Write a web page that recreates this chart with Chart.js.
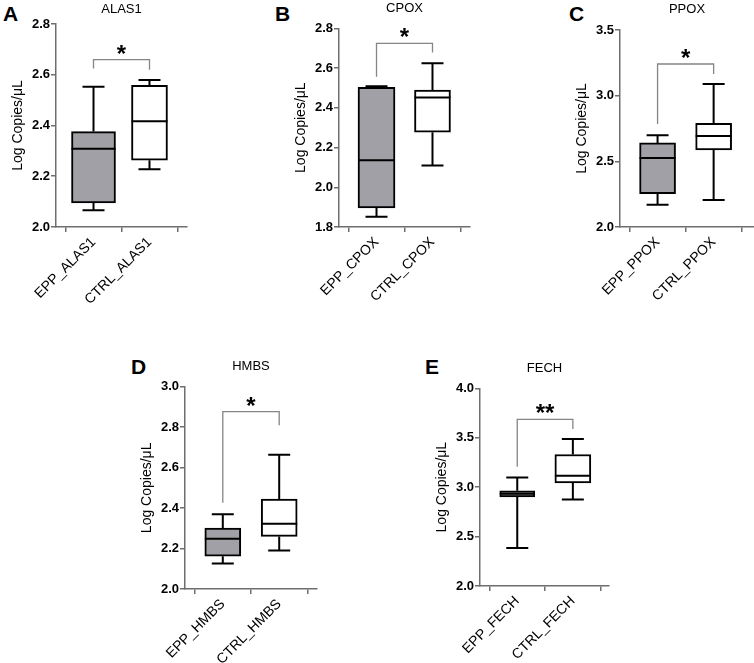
<!DOCTYPE html>
<html>
<head>
<meta charset="utf-8">
<script src="https://cdn.jsdelivr.net/npm/chart.js@4.4.1/dist/chart.umd.min.js"></script>
<style>
body { margin: 0; background: #fff; }
#wrap { position: relative; width: 754px; height: 663px; overflow: hidden; font-family: "Liberation Sans", Arial, sans-serif; }
#wrap canvas { position: absolute; }
.letter { position: absolute; font-weight: bold; font-size: 21px; line-height: 1; color: #000; }
</style>
</head>
<body>
<div id="wrap">
  <div class="letter" style="left:3px;top:3px">A</div>
  <div class="letter" style="left:275px;top:2.5px">B</div>
  <div class="letter" style="left:569px;top:2.5px">C</div>
  <div class="letter" style="left:131px;top:355.5px">D</div>
  <div class="letter" style="left:425px;top:355.5px">E</div>
</div>
<script>
// data (log copies / uL)
const genes = ['ALAS1', 'CPOX', 'PPOX', 'HMBS', 'FECH'];
const eppLabels = ['EPP_ALAS1', 'EPP_CPOX', 'EPP_PPOX', 'EPP_HMBS', 'EPP_FECH'];
const ctrlLabels = ['CTRL_ALAS1', 'CTRL_CPOX', 'CTRL_PPOX', 'CTRL_HMBS', 'CTRL_FECH'];

const eppMin    = [2.066, 1.851, 2.170, 2.126, 2.385];
const eppQ1     = [2.095, 1.896, 2.254, 2.162, 2.902];
const eppMedian = [2.308, 2.136, 2.525, 2.248, 2.932];
const eppQ3     = [2.376, 2.503, 2.640, 2.301, 2.963];
const eppMax    = [2.553, 2.508, 2.698, 2.369, 3.098];

const ctrlMin    = [2.228, 2.109, 2.206, 2.190, 2.875];
const ctrlQ1     = [2.263, 2.277, 2.586, 2.260, 3.044];
const ctrlMedian = [2.417, 2.452, 2.693, 2.323, 3.115];
const ctrlQ3     = [2.558, 2.489, 2.790, 2.444, 3.330];
const ctrlMax    = [2.579, 2.624, 3.089, 2.664, 3.487];

const yMin  = [2.0, 1.8, 2.0, 2.0, 2.0];
const yMax  = [2.8, 2.8, 3.5, 3.0, 4.0];
const yStep = [0.2, 0.2, 0.5, 0.2, 0.5];

const sigTop      = [2.660, 2.724, 3.241, 2.877, 3.686];
const sigLeftEnd  = [2.625, 2.556, 2.785, 2.426, 3.206];
const sigRightEnd = [2.620, 2.678, 3.165, 2.810, 3.588];
const sigText     = ['*', '*', '*', '*', '**'];

// where each panel sits on the page
const panels = [
  { left: 0,   top: 0,   w: 200, h: 330, padL: 0,  padR: 13, tTop: 1.2, tBot: 7.2,  xH: 103, xMax: 1.67, eppW: 44 },
  { left: 270, top: 0,   w: 210, h: 330, padL: 13, padR: 10, tTop: 0.9, tBot: 11.8, xH: 103, xMax: 1.67, eppW: 37 },
  { left: 560, top: 0,   w: 194, h: 330, padL: 4,  padR: 0,  tTop: 1.7, tBot: 12.7, xH: 103, xMax: 1.72, eppW: 36 },
  { left: 120, top: 358, w: 210, h: 305, padL: 9,  padR: 13, tTop: 0.9, tBot: 12.2, xH: 74,  xMax: 1.67, eppW: 36 },
  { left: 415, top: 359, w: 210, h: 304, padL: 9,  padR: 16, tTop: 1.5, tBot: 12.2, xH: 77,  xMax: 1.65, eppW: 35 }
];

Chart.defaults.font.family = '"Liberation Sans", Arial, sans-serif';
Chart.defaults.color = '#000';

const axisGray = '#6e6e6e';

const boxExtras = {
  id: 'boxExtras',
  afterDatasetsDraw(chart, args, opts) {
    const { ctx, scales: { x, y } } = chart;
    const i = opts.index;
    ctx.save();
    ctx.strokeStyle = '#000';
    ctx.lineWidth = 2;
    ctx.lineCap = 'butt';
    chart.data.datasets.forEach((ds, di) => {
      const bar = chart.getDatasetMeta(di).data[0];
      const cx = bar.x;
      const half = bar.width / 2;
      const cap = 11;
      const yTop = y.getPixelForValue(ds.whiskerMax);
      const yBot = y.getPixelForValue(ds.whiskerMin);
      const yQ3 = y.getPixelForValue(ds.data[0].y[1]);
      const yQ1 = y.getPixelForValue(ds.data[0].y[0]);
      const yMed = y.getPixelForValue(ds.median);
      ctx.beginPath();
      ctx.moveTo(cx, yQ3); ctx.lineTo(cx, yTop);
      ctx.moveTo(cx - cap, yTop); ctx.lineTo(cx + cap, yTop);
      ctx.moveTo(cx, yQ1); ctx.lineTo(cx, yBot);
      ctx.moveTo(cx - cap, yBot); ctx.lineTo(cx + cap, yBot);
      ctx.moveTo(cx - half, yMed); ctx.lineTo(cx + half, yMed);
      ctx.stroke();
    });
    // significance bracket
    const x0 = x.getPixelForValue(0);
    const x1 = x.getPixelForValue(1);
    const yt = y.getPixelForValue(sigTop[i]);
    ctx.strokeStyle = '#858585';
    ctx.lineWidth = 1.3;
    ctx.beginPath();
    ctx.moveTo(x0, y.getPixelForValue(sigLeftEnd[i]));
    ctx.lineTo(x0, yt);
    ctx.lineTo(x1, yt);
    ctx.lineTo(x1, y.getPixelForValue(sigRightEnd[i]));
    ctx.stroke();
    ctx.fillStyle = '#000';
    ctx.font = 'bold 24px "Liberation Sans", Arial, sans-serif';
    ctx.textAlign = 'center';
    ctx.textBaseline = 'alphabetic';
    ctx.fillText(sigText[i], (x0 + x1) / 2, yt + 2);
    ctx.restore();
  }
};

const wrap = document.getElementById('wrap');

genes.forEach((gene, i) => {
  const p = panels[i];
  const cv = document.createElement('canvas');
  cv.style.left = p.left + 'px';
  cv.style.top = p.top + 'px';
  cv.style.width = p.w + 'px';
  cv.style.height = p.h + 'px';
  cv.width = p.w;
  cv.height = p.h;
  wrap.appendChild(cv);
  const cats = [eppLabels[i], ctrlLabels[i]];

  new Chart(cv.getContext('2d'), {
    type: 'bar',
    data: {
      datasets: [
        {
          label: eppLabels[i],
          data: [{ x: 0, y: [eppQ1[i], eppQ3[i]] }],
          median: eppMedian[i], whiskerMin: eppMin[i], whiskerMax: eppMax[i],
          backgroundColor: '#a0a0a6',
          borderColor: '#000',
          borderWidth: 2,
          borderSkipped: false,
          barThickness: p.eppW,
          grouped: false
        },
        {
          label: ctrlLabels[i],
          data: [{ x: 1, y: [ctrlQ1[i], ctrlQ3[i]] }],
          median: ctrlMedian[i], whiskerMin: ctrlMin[i], whiskerMax: ctrlMax[i],
          backgroundColor: '#ffffff',
          borderColor: '#000',
          borderWidth: 2,
          borderSkipped: false,
          barThickness: 36,
          grouped: false
        }
      ]
    },
    options: {
      responsive: false,
      animation: false,
      events: [],
      layout: {
        autoPadding: false,
        padding: { left: p.padL, right: p.padR, top: 0, bottom: 0 }
      },
      plugins: {
        legend: { display: false },
        tooltip: { enabled: false },
        title: {
          display: true,
          text: gene,
          fullSize: false,
          color: '#000',
          font: { size: 13, weight: 'normal' },
          padding: { top: p.tTop, bottom: p.tBot }
        },
        boxExtras: { index: i }
      },
      scales: {
        x: {
          type: 'linear',
          offset: false,
          bounds: 'ticks',
          min: -0.67,
          max: p.xMax,
          afterBuildTicks(scale) {
            scale.ticks = [{ value: 0 }, { value: 1 }];
          },
          afterFit(scale) { scale.height = p.xH; },
          ticks: {
            autoSkip: false,
            minRotation: 45,
            maxRotation: 45,
            padding: 2,
            color: '#000',
            font: { size: 14 },
            callback: v => cats[v]
          },
          grid: { drawOnChartArea: false, drawTicks: true, tickLength: 5, color: axisGray, lineWidth: 1.5 },
          border: { color: axisGray, width: 1.5 }
        },
        y: {
          min: yMin[i],
          max: yMax[i],
          afterFit(scale) { scale.width = 56; },
          ticks: {
            stepSize: yStep[i],
            padding: 1,
            color: '#000',
            font: { size: 13, weight: 'bold' },
            callback: v => v.toFixed(1)
          },
          grid: { drawOnChartArea: false, drawTicks: true, tickLength: 5, color: axisGray, lineWidth: 1.5 },
          border: { color: axisGray, width: 1.5 },
          title: {
            display: true,
            text: 'Log Copies/μL',
            color: '#000',
            font: { size: 14, weight: 'normal' },
            padding: { top: 10.1, bottom: 0 }
          }
        }
      }
    },
    plugins: [boxExtras]
  });
});
</script>
</body>
</html>
